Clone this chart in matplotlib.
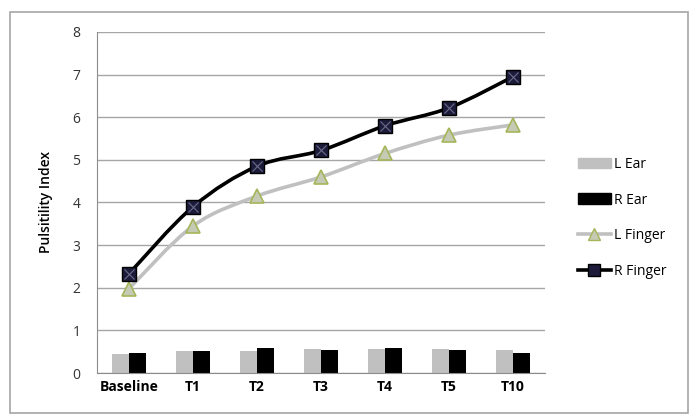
import matplotlib.pyplot as plt
import numpy as np
from matplotlib.path import Path
from matplotlib.patches import PathPatch, Rectangle
from matplotlib.lines import Line2D

plt.rcParams['font.family'] = ['Open Sans', 'DejaVu Sans']

categories = ['Baseline', 'T1', 'T2', 'T3', 'T4', 'T5', 'T10']
l_ear = [0.45, 0.51, 0.51, 0.57, 0.57, 0.57, 0.54]
r_ear = [0.48, 0.51, 0.58, 0.55, 0.58, 0.55, 0.48]
l_finger = [1.98, 3.45, 4.15, 4.60, 5.15, 5.58, 5.82]
r_finger = [2.33, 3.90, 4.85, 5.22, 5.80, 6.22, 6.95]


def smooth_path(x, y, t=1 / 6):
    # catmull-rom style bezier like excel's smoothed lines
    verts = [(x[0], y[0])]
    codes = [Path.MOVETO]
    n = len(x)
    for i in range(n - 1):
        x0, y0 = (x[i - 1], y[i - 1]) if i > 0 else (x[i], y[i])
        x3, y3 = (x[i + 2], y[i + 2]) if i + 2 < n else (x[i + 1], y[i + 1])
        c1 = (x[i] + (x[i + 1] - x0) * t, y[i] + (y[i + 1] - y0) * t)
        c2 = (x[i + 1] - (x3 - x[i]) * t, y[i + 1] - (y3 - y[i]) * t)
        verts += [c1, c2, (x[i + 1], y[i + 1])]
        codes += [Path.CURVE4] * 3
    return Path(verts, codes)


fig = plt.figure(figsize=(6.91, 4.17), dpi=100)
ax = fig.add_axes([0.1404, 0.1055, 0.6483, 0.8178])

fig.patches.append(Rectangle((10 / 691, 4 / 417), 678 / 691, 401 / 417,
                             transform=fig.transFigure, fill=False,
                             edgecolor='#a6a6a6', linewidth=1.2))

x = np.arange(len(categories))
w = 0.27
ax.bar(x - w / 2, l_ear, w, color='#c0c0c0', zorder=2)
ax.bar(x + w / 2, r_ear, w, color='#000000', zorder=2)

lf_grey = '#c0c0c0'
ax.add_patch(PathPatch(smooth_path(x, l_finger), fill=False,
                       edgecolor=lf_grey, linewidth=2.6, zorder=3))
ax.plot(x, l_finger, linestyle='none', marker='^', markersize=10,
        markerfacecolor='#c6c9b3', markeredgecolor='#a4b65a',
        markeredgewidth=1.2, zorder=4)

ax.add_patch(PathPatch(smooth_path(x, r_finger), fill=False,
                       edgecolor='#000000', linewidth=2.6, zorder=5))
ax.plot(x, r_finger, linestyle='none', marker='s', markersize=10,
        markerfacecolor='#1c1c3a', markeredgecolor='#000000',
        markeredgewidth=1.0, zorder=6)
ax.plot(x, r_finger, linestyle='none', marker='x', markersize=7,
        markeredgecolor='#6a6a8a', markeredgewidth=0.8, zorder=7)

ax.set_xlim(-0.5, len(categories) - 0.5)
ax.set_ylim(0, 8)
ax.set_yticks(range(0, 9))
ax.set_xticks(x)
ax.set_xticklabels(categories, fontweight='bold', fontsize=10)
ax.tick_params(axis='y', length=0, labelsize=10, pad=12, labelcolor='#333333')
ax.tick_params(axis='x', length=0, pad=5)
ax.set_ylabel('Pulsitility Index', fontsize=10, fontweight='semibold',
              labelpad=14)

ax.grid(axis='y', color='#a6a6a6', linewidth=1.0, zorder=0)
ax.set_axisbelow(True)
for s in ['top', 'right']:
    ax.spines[s].set_visible(False)
ax.spines['left'].set_color('#8c8c8c')
ax.spines['bottom'].set_color('#8c8c8c')

handles = [
    Rectangle((0, 0), 1, 1, color='#c0c0c0'),
    Rectangle((0, 0), 1, 1, color='#000000'),
    Line2D([], [], color=lf_grey, linewidth=2.6, marker='^', markersize=9,
           markerfacecolor='#c6c9b3', markeredgecolor='#a4b65a'),
    Line2D([], [], color='#000000', linewidth=2.6, marker='s', markersize=8,
           markerfacecolor='#1c1c3a', markeredgecolor='#000000'),
]
labels = ['L Ear', 'R Ear', 'L Finger', 'R Finger']
fig.legend(handles, labels, loc='center left',
           bbox_to_anchor=(565 / 691, (417 - 218) / 417), frameon=False,
           fontsize=10, handlelength=2.4, handleheight=0.8,
           handletextpad=0.2, labelspacing=1.5)

fig.savefig('out.png', dpi=100)
